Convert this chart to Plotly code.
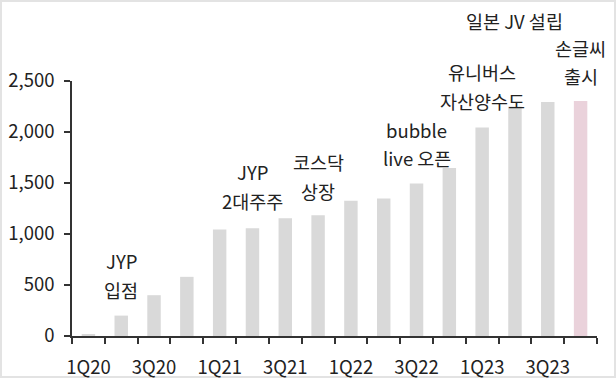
import plotly.graph_objects as go

quarters = ["1Q20", "2Q20", "3Q20", "4Q20", "1Q21", "2Q21", "3Q21", "4Q21",
            "1Q22", "2Q22", "3Q22", "4Q22", "1Q23", "2Q23", "3Q23", "4Q23"]
values = [15, 200, 400, 580, 1045, 1057, 1155, 1185,
          1325, 1348, 1495, 1646, 2045, 2250, 2293, 2303]
tick_labels = ["1Q20", "3Q20", "1Q21", "3Q21", "1Q22", "3Q22", "1Q23", "3Q23"]
y_ticks = [0, 500, 1000, 1500, 2000, 2500]

# event notes: (quarter, [lines])
events = [
    ("2Q20", ["JYP", "입점"]),
    ("2Q21", ["JYP", "2대주주"]),
    ("4Q21", ["코스닥", "상장"]),
    ("3Q22", ["bubble", "live 오픈"]),
    ("1Q23", ["유니버스", "자산양수도"]),
    ("2Q23", ["일본 JV 설립"]),
    ("4Q23", ["손글씨", "출시"]),
]

FONT = "Noto Sans CJK KR, Noto Sans, sans-serif"
FS = 18.5
idx = list(range(len(quarters)))
colors = ["#d9d9d9"] * (len(quarters) - 1) + ["#ead2db"]

W, H = 616, 378
ml, mr, mt, mb = 72, 19, 81, 42
pw, ph = W - ml - mr, H - mt - mb

fig = go.Figure()
fig.add_trace(go.Bar(x=idx, y=values, marker=dict(color=colors, line=dict(width=0)),
                     hoverinfo="skip"))

# pixel row of the first line of each note, and line spacing (px)
top_px = {"2Q20": 261, "2Q21": 172, "4Q21": 162, "3Q22": 129.5,
          "1Q23": 72.5, "2Q23": 21, "4Q23": 47.5}
step_px = 28.5
annotations = []
for q, lines in events:
    xi = quarters.index(q)
    for k, t in enumerate(lines):
        py = top_px[q] + k * step_px
        annotations.append(dict(x=xi, y=(H - mb - py) / ph, xref="x", yref="paper",
                                text=t, showarrow=False, xanchor="center", yanchor="middle",
                                font=dict(family=FONT, size=FS, color="#222")))

fig.update_layout(
    width=W, height=H,
    margin=dict(l=ml, r=mr, t=mt, b=mb, pad=0, autoexpand=False),
    paper_bgcolor="white", plot_bgcolor="white",
    showlegend=False,
    bargap=0.59,
    annotations=annotations,
    font=dict(family=FONT, size=FS, color="#222"),
    shapes=[dict(type="rect", xref="paper", yref="paper",
                 x0=-ml / pw + 1 / pw, x1=1 + mr / pw - 1 / pw,
                 y0=-mb / ph + 1 / ph, y1=1 + mt / ph - 1 / ph,
                 line=dict(color="#e3e3e3", width=2), layer="below")],
)
fig.update_xaxes(
    automargin=False,
    range=[-0.5, len(quarters) - 0.5],
    tickmode="array",
    tickvals=[quarters.index(t) for t in tick_labels],
    ticktext=tick_labels,
    ticks="", ticklen=0,
    ticklabelstandoff=14,
    tickfont=dict(family=FONT, size=FS, color="#222"),
    showline=True, linecolor="#333", linewidth=1.5,
    showgrid=False, zeroline=False,
    minor=dict(tickmode="array", tickvals=[i - 0.5 for i in range(len(quarters) + 1)],
               ticks="outside", ticklen=6, tickcolor="#333", tickwidth=1.5, showgrid=False),
)
fig.update_yaxes(
    automargin=False,
    range=[0, 2500],
    tickmode="array", tickvals=y_ticks, tickformat=",",
    ticks="outside", ticklen=6, tickcolor="#333", tickwidth=1.5,
    ticklabelstandoff=6,
    tickfont=dict(family=FONT, size=FS, color="#222"),
    showline=True, linecolor="#333", linewidth=1.5,
    showgrid=False, zeroline=False,
)

fig.write_html("out.html", config={"displayModeBar": False},
               post_script="document.body.style.margin='0';")
